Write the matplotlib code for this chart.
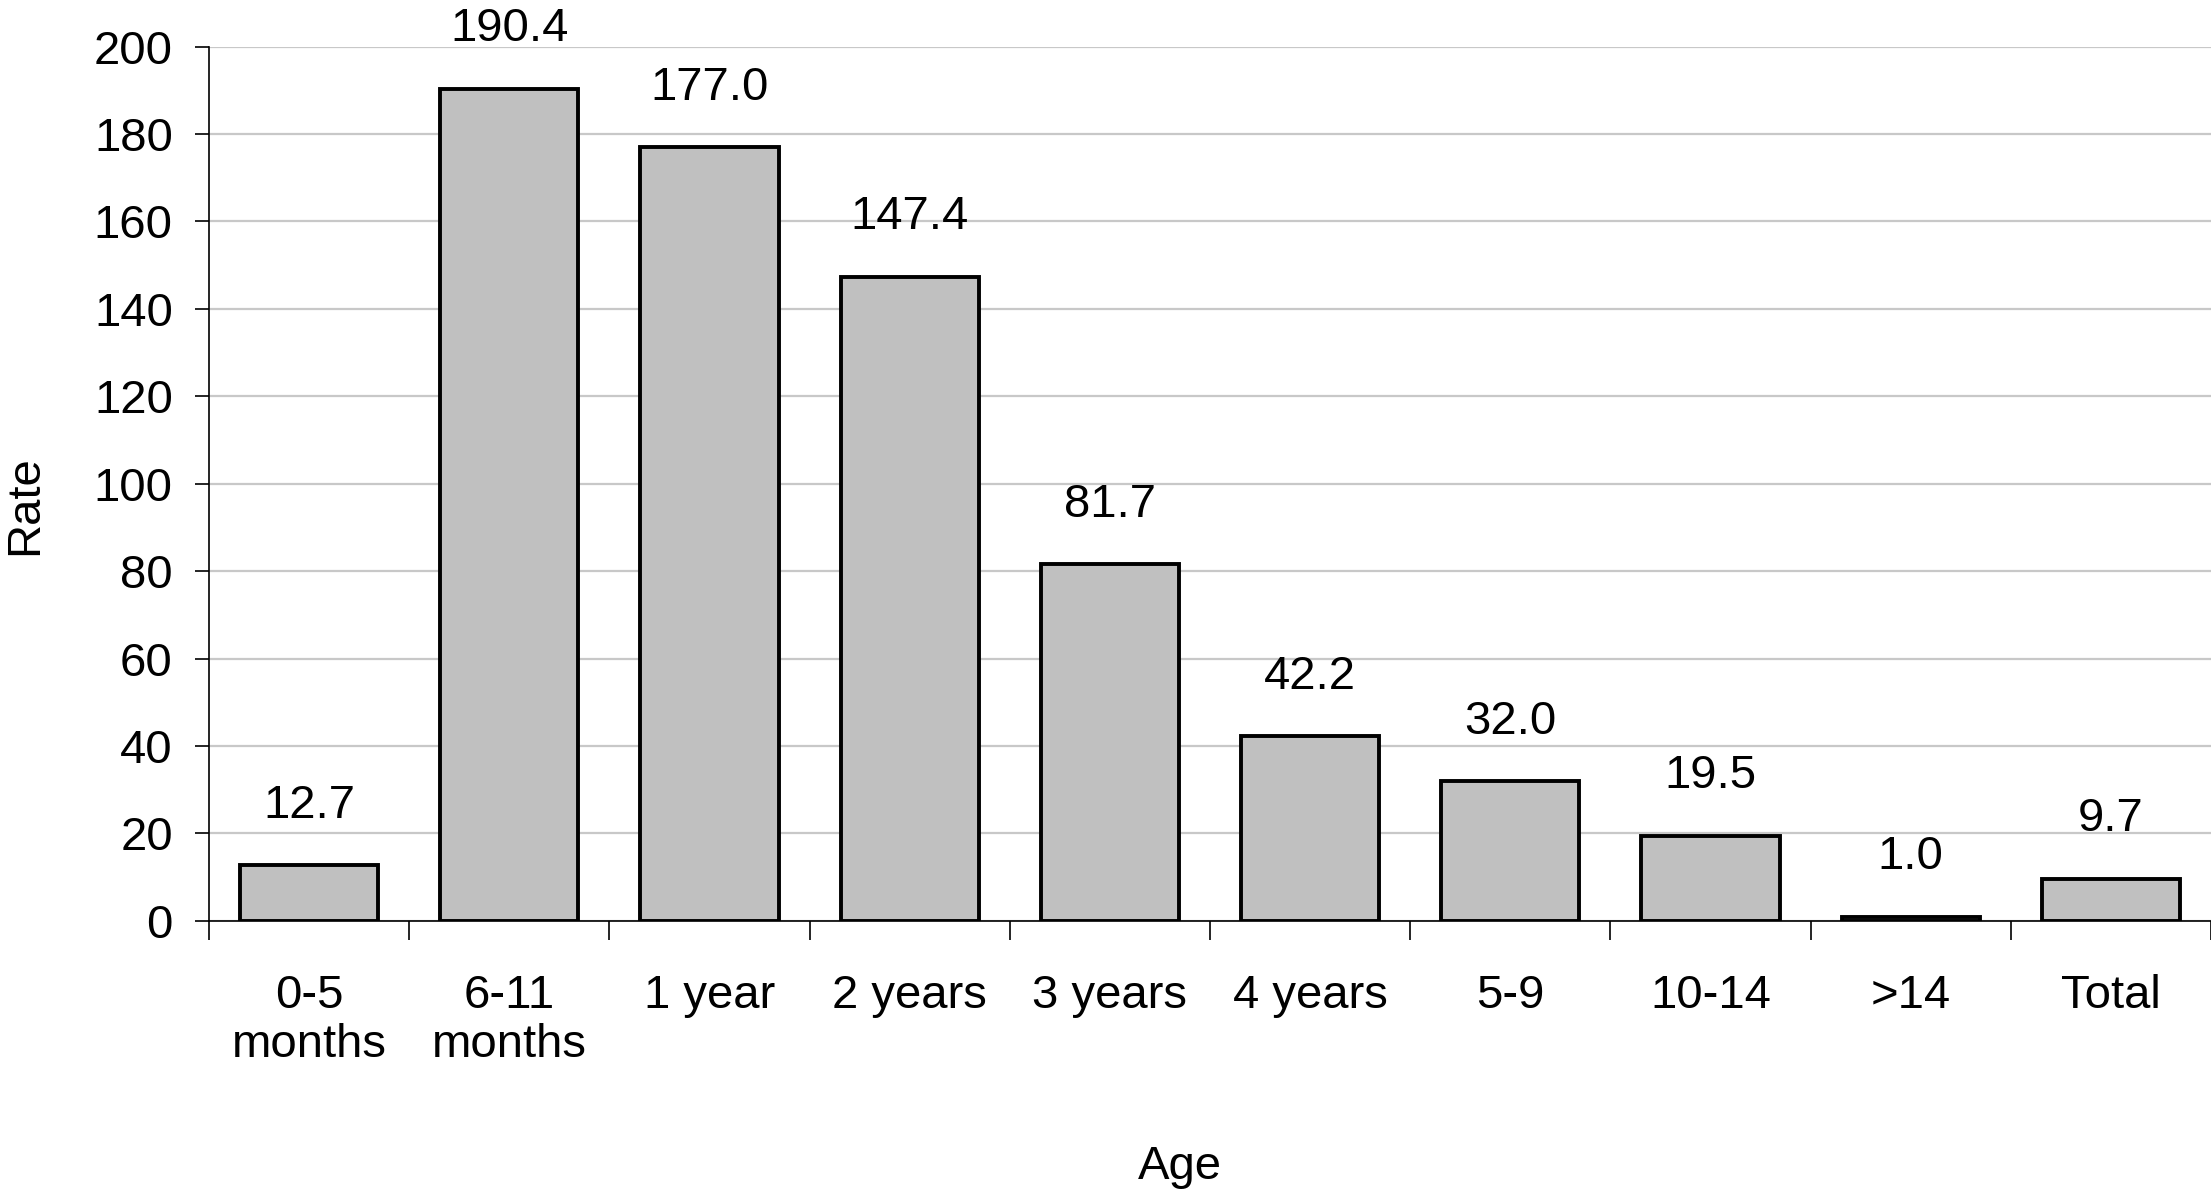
import matplotlib
matplotlib.use('Agg')
import matplotlib.pyplot as plt
import numpy as np

# Data
age_groups = ['0-5\nmonths', '6-11\nmonths', '1 year', '2 years', '3 years',
              '4 years', '5-9', '10-14', '>14', 'Total']
rates = [12.7, 190.4, 177.0, 147.4, 81.7, 42.2, 32.0, 19.5, 1.0, 9.7]
y_ticks = [0, 20, 40, 60, 80, 100, 120, 140, 160, 180, 200]

plt.rcParams['font.family'] = ['Liberation Sans', 'DejaVu Sans']
plt.rcParams['font.size'] = 34

fig = plt.figure(figsize=(22.11, 11.96), dpi=100)
ax = fig.add_axes([0.0945, 0.23, 0.9055, 0.731])

x = np.arange(len(age_groups))
ax.bar(x, rates, width=0.69, color='#c0c0c0', edgecolor='black', linewidth=2.8, zorder=3)

# Value labels above bars
for xi, v in zip(x, rates):
    ax.annotate(f'{v:.1f}', (xi, v), xytext=(0, 34), textcoords='offset points',
                ha='center', va='baseline', fontsize=34)

ax.set_xlim(-0.5, len(age_groups) - 0.5)
ax.set_ylim(0, 200)
ax.set_yticks(y_ticks)
ax.yaxis.grid(True, color='#c8c8c8', linewidth=1.6, zorder=0)
ax.set_axisbelow(True)

# Category labels, tick marks between categories
ax.set_xticks(x)
ax.set_xticklabels(age_groups, linespacing=1.15)
ax.set_xticks(np.arange(len(age_groups) + 1) - 0.5, minor=True)
ax.tick_params(axis='x', which='major', length=0, pad=38)
ax.tick_params(axis='x', which='minor', length=14, width=1.2, direction='out')
ax.tick_params(axis='y', length=10, width=1.2, direction='out', pad=16)

for spine in ['top', 'right']:
    ax.spines[spine].set_visible(False)
ax.spines['left'].set_linewidth(1.2)
ax.spines['bottom'].set_linewidth(1.2)

ax.set_ylabel('Rate', fontsize=34, va='center')
ax.set_xlabel('Age', fontsize=34, va='center')
ax.yaxis.set_label_coords(-0.092, 0.476)
ax.xaxis.set_label_coords(0.485, -0.282)

fig.savefig('out.png', dpi=100)
